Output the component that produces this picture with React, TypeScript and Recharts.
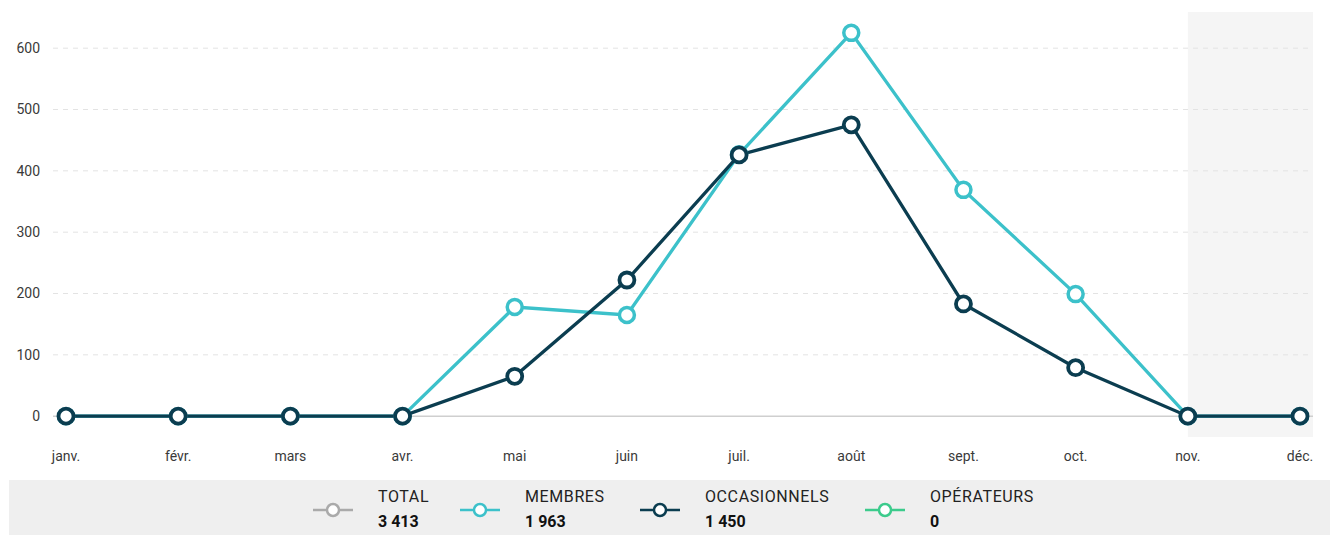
import React from 'react';
import { LineChart, Line, XAxis, YAxis, ReferenceArea, ReferenceLine } from 'recharts';

const months = ['janv.', 'févr.', 'mars', 'avr.', 'mai', 'juin', 'juil.', 'août', 'sept.', 'oct.', 'nov.', 'déc.'];
const membres = [0, 0, 0, 0, 178, 165, 427, 625, 369, 199, 0, 0];
const occasionnels = [0, 0, 0, 0, 65, 222, 426, 475, 183, 79, 0, 0];
const operateurs = [0, 0, 0, 0, 0, 0, 0, 0, 0, 0, 0, 0];
const yTicks = [0, 100, 200, 300, 400, 500, 600];
const yDomain = [-34, 659];

const legendNames = ['TOTAL', 'MEMBRES', 'OCCASIONNELS', 'OPÉRATEURS'];
const legendTotals = ['3 413', '1 963', '1 450', '0'];
const legendColors = ['#aaaaaa', '#3cc1ca', '#0b3d50', '#3ccb8c'];
const legendLeft = [313, 460, 640, 865];

const data = months.map((m, i) => ({
  month: m,
  membres: membres[i],
  occasionnels: occasionnels[i],
  operateurs: operateurs[i],
}));

const font = 'Roboto, "DejaVu Sans", sans-serif';
const tickStyle = { fill: '#3a3a3a', fontSize: 14, fontFamily: font };

const LegendIcon = ({ color }: { color: string }) => (
  <svg width={40} height={16}>
    <line x1={0} y1={8} x2={40} y2={8} stroke={color} strokeWidth={2.5} />
    <circle cx={20} cy={8} r={6} fill="#fff" stroke={color} strokeWidth={2.5} />
  </svg>
);

// shaded area runs from the nov. point to the right edge of the plot (past the axis padding)
const ShadedRect = (p: any) => (
  <rect x={p.x} y={p.y} width={p.width + 13} height={p.height} fill="#000" fillOpacity={0.04} />
);

export default function App() {
  return (
    <div style={{ position: 'fixed', left: 0, top: 0, width: 1330, height: 535, background: '#fff', fontFamily: font }}>
      <LineChart width={1330} height={480} data={data} margin={{ top: 12, right: 17, left: 0, bottom: 13 }}>
        <ReferenceArea x1="nov." x2="déc." y1={yDomain[0]} y2={yDomain[1]} shape={ShadedRect} />
        {yTicks
          .filter((t) => t > 0)
          .map((t) => (
            <ReferenceLine key={t} y={t} stroke="#e3e3e3" strokeDasharray="5 5" />
          ))}
        <XAxis
          dataKey="month"
          axisLine={false}
          tickLine={false}
          tick={tickStyle}
          tickMargin={8}
          height={30}
          padding={{ left: 13, right: 13 }}
          interval={0}
        />
        <YAxis
          width={53}
          domain={yDomain}
          allowDataOverflow
          ticks={yTicks}
          axisLine={false}
          tickLine={false}
          tick={tickStyle}
          tickMargin={7}
        />
        <ReferenceLine y={0} stroke="#cfcfcf" strokeWidth={1.5} />
        <Line
          dataKey="membres"
          stroke="#3cc1ca"
          strokeWidth={3.3}
          dot={{ r: 7.5, fill: '#fff', stroke: '#3cc1ca', strokeWidth: 3.5 }}
          isAnimationActive={false}
        />
        <Line
          dataKey="occasionnels"
          stroke="#0b3d50"
          strokeWidth={3.3}
          dot={{ r: 7.5, fill: '#fff', stroke: '#0b3d50', strokeWidth: 3.8 }}
          isAnimationActive={false}
        />
      </LineChart>
      <div style={{ position: 'absolute', left: 9, top: 480, width: 1321, height: 55, background: '#efefef' }}>
        {legendNames.map((name, i) => (
          <div key={name} style={{ position: 'absolute', left: legendLeft[i] - 9, top: 0, height: 55 }}>
            <div style={{ position: 'absolute', left: 0, top: 22 }}>
              <LegendIcon color={legendColors[i]} />
            </div>
            <div style={{ position: 'absolute', left: 65, top: 7, whiteSpace: 'nowrap', fontSize: 16, letterSpacing: 0.6, color: '#222', lineHeight: '20px' }}>
              {name}
            </div>
            <div style={{ position: 'absolute', left: 65, top: 32, whiteSpace: 'nowrap', fontSize: 16, fontWeight: 700, color: '#111', lineHeight: '20px' }}>
              {legendTotals[i]}
            </div>
          </div>
        ))}
      </div>
    </div>
  );
}
